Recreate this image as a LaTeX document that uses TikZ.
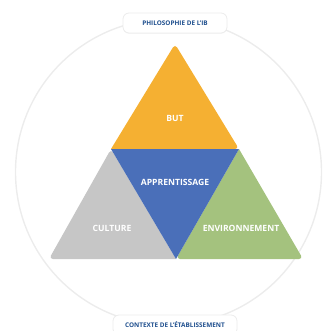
\documentclass[tikz,border=0pt]{standalone}
\usepackage{fontspec}
\setsansfont{Open Sans}
\usetikzlibrary{positioning, shadows}

\definecolor{butorange}{HTML}{F5B032}
\definecolor{apprblue}{HTML}{4A6FB9}
\definecolor{cultgrey}{HTML}{C6C6C6}
\definecolor{envgreen}{HTML}{A4C27E}
\definecolor{ibblue}{HTML}{1F4F8E}
\definecolor{ringgrey}{HTML}{ECECEC}

\tikzset{
  part/.style={draw=none, rounded corners=4pt},
  partlabel/.style={text=white, font=\sffamily\bfseries\fontsize{8.6}{9}\selectfont},
  tag/.style={draw=ringgrey, line width=0.8pt, fill=white, rounded corners=6pt,
    minimum width=104pt, minimum height=20pt, inner sep=0pt,
    text=ibblue, font=\sffamily\bfseries\fontsize{6.4}{7}\selectfont,
    drop shadow={shadow xshift=0pt, shadow yshift=-0.6pt, opacity=0.12}},
}

\begin{document}
\begin{tikzpicture}[x=1pt, y=-1pt]
\useasboundingbox (0,0) rectangle (324,331);

% ring
\draw[ringgrey, line width=1.4pt] (168.5,172) circle (153);

% corners of the pyramid
\coordinate (apex) at (175,44);
\coordinate (ml) at (111,149);
\coordinate (mr) at (239,149);
\coordinate (bl) at (49,259);
\coordinate (bm) at (176,259);
\coordinate (br) at (303,259);

\fill[part, butorange] (apex) -- (mr) [sharp corners] -- (ml) [rounded corners=4pt] -- cycle;
\fill[part, cultgrey] (ml) [sharp corners] -- (bm) [rounded corners=4pt] -- (bl) -- cycle;
\fill[part, envgreen] (mr) -- (br) -- (bm) [sharp corners] -- cycle;
\fill[apprblue] (ml) -- (mr) -- (bm) -- cycle;

\node[partlabel] (but) at (175,118) {BUT};
\node[partlabel] (appr) at (175,182) {APPRENTISSAGE};
\node[partlabel] (cult) at (112,228) {CULTURE};
\node[partlabel] (env) at (241,228) {ENVIRONNEMENT};

% tags on the ring
\node[tag] (philo) at (175,23) {PHILOSOPHIE DE L'IB};
\node[tag, minimum width=124pt] (ctx) at (175,325) {CONTEXTE DE L'ÉTABLISSEMENT};
\end{tikzpicture}
\end{document}
